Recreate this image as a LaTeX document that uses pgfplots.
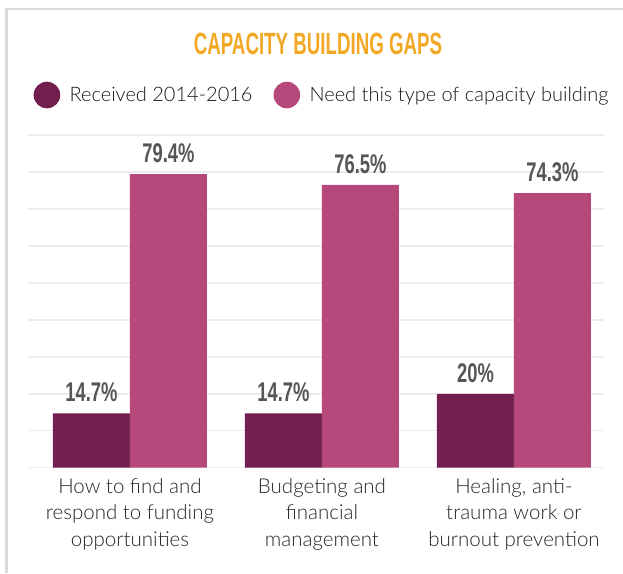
\documentclass[border=0pt]{standalone}
\usepackage{pgfplots}
\pgfplotsset{compat=1.18}
\usepackage{fontspec}
\setmainfont{Lato}[UprightFont={* Light}]
\newfontfamily\titlefont[FakeStretch=0.61]{Liberation Sans}
\newfontfamily\valfont[FakeStretch=0.68]{Liberation Sans}

\definecolor{recv}{RGB}{114,31,79}
\definecolor{need}{RGB}{183,72,124}
\definecolor{gapgold}{RGB}{242,168,36}
\definecolor{gridgray}{RGB}{236,236,236}
\definecolor{framegray}{RGB}{218,218,218}
\definecolor{valgray}{RGB}{85,85,85}

\begin{document}
\begin{tikzpicture}[x=1pt,y=1pt]
\path[use as bounding box] (0,0) rectangle (623,573);
\draw[framegray,line width=2.5pt] (6.5,0) -- (6.5,564) -- (623,564);
\node[anchor=base,text=gapgold,font=\titlefont\bfseries\fontsize{30.7}{32}\selectfont] at (318,518.7) {CAPACITY BUILDING GAPS};
\begin{axis}[
  at={(28pt,105.3pt)}, anchor=south west,
  scale only axis, width=576pt, height=332.7pt,
  xmin=-0.531, xmax=2.469, ymin=0, ymax=90,
  ybar=0pt, bar width=77pt,
  xtick={0,1,2},
  xticklabels={{How to find and\\respond to funding\\opportunities},{Budgeting and\\financial\\management},{Healing, anti-\\trauma work or\\burnout prevention}},
  xticklabel style={align=center,text=black!85,font=\fontsize{20.5}{26.5}\selectfont,yshift=-7pt},
  ytick={0,10,...,90}, yticklabels={},
  ymajorgrids, grid style={gridgray,line width=1.5pt},
  axis line style={draw=none}, major tick length=0pt,
  /pgf/number format/assume math mode=true,
  nodes near coords={\pgfmathprintnumber{\pgfplotspointmeta}\%},
  every node near coord/.append style={font=\valfont\bfseries\fontsize{27}{27}\selectfont,text=valgray,anchor=south,inner sep=0pt,yshift=11pt},
  legend columns=-1,
  legend style={at={(axis description cs:0.0094,1.1202)},anchor=west,draw=none,fill=none,inner sep=0pt,
    font=\fontsize{20}{22}\selectfont,text=black!90,
    /tikz/every even column/.append style={column sep=19pt}},
]
\addplot[fill=recv,draw=none,legend image code/.code={\fill[recv] (13.3pt,0pt) circle (13.3pt); \path (34pt,0pt);}]
  coordinates {(0,14.7) (1,14.7) (2,20)};
\addplot[fill=need,draw=none,legend image code/.code={\fill[need] (13.3pt,0pt) circle (13.3pt); \path (34pt,0pt);}]
  coordinates {(0,79.4) (1,76.5) (2,74.3)};
\legend{Received 2014-2016,Need this type of capacity building}
\end{axis}
\end{tikzpicture}
\end{document}
